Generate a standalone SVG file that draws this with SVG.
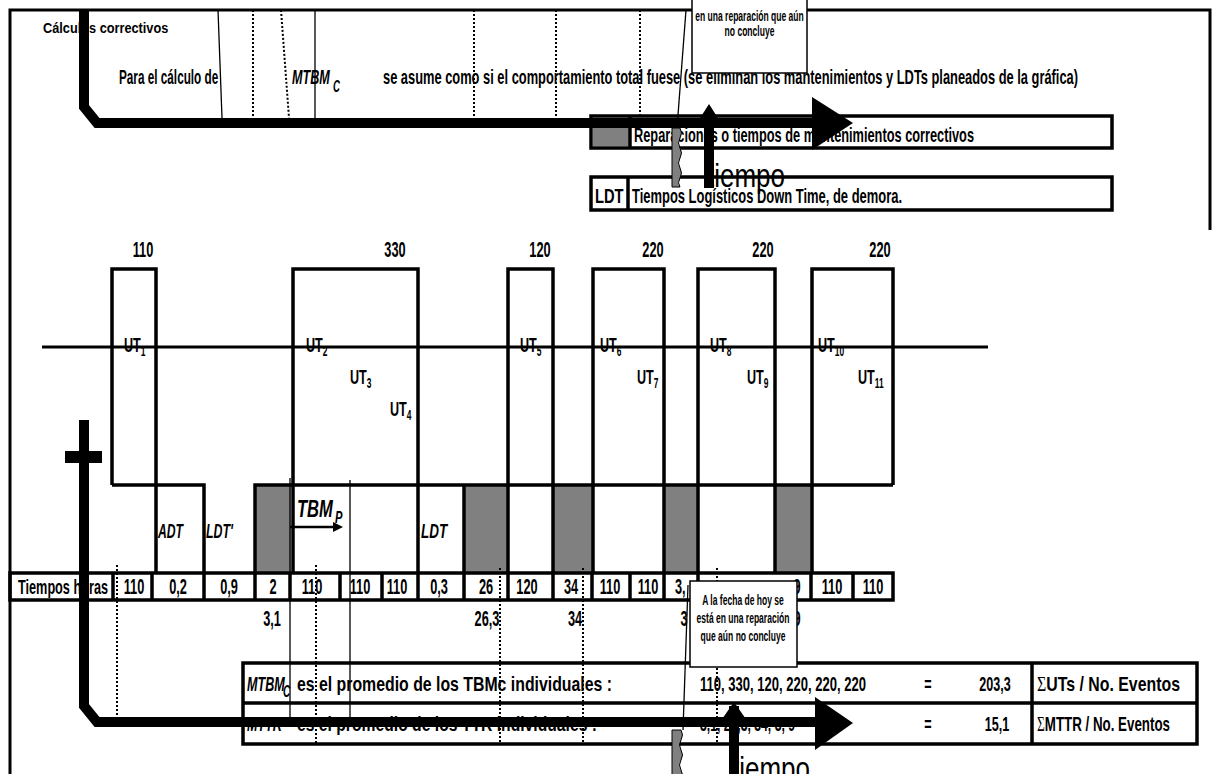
<svg xmlns="http://www.w3.org/2000/svg" width="1213" height="774" viewBox="0 0 1213 774">
<style>
.t{font-family:"Liberation Sans",Arial,sans-serif;font-weight:bold;fill:#000}
.r{font-family:"Liberation Sans",Arial,sans-serif;font-weight:normal;fill:#000}
.s{font-family:"Liberation Serif","Times New Roman",serif;font-weight:normal}
.i{font-style:italic}
.m{text-anchor:middle}
.f14{font-size:14px}
.f15{font-size:15px}
.f16{font-size:16px}
.f21{font-size:21px}
.f22{font-size:22px}
.f23{font-size:23px}
.f26{font-size:26px}
.frame{fill:none;stroke:#000;stroke-width:3}
.thick{fill:none;stroke:#000;stroke-width:10;stroke-linejoin:miter}
.box{fill:#fff;stroke:#000;stroke-width:3.5}
.tbl{fill:none;stroke:#000;stroke-width:3.5}
.ln{fill:none;stroke:#000;stroke-width:3.5}
.axis{fill:none;stroke:#000;stroke-width:3}
.gray{fill:#808080}
.dot{fill:none;stroke:#000;stroke-width:2;stroke-dasharray:2 2}
.thin{fill:none;stroke:#000;stroke-width:1.3}
.call{fill:#fff;stroke:#000;stroke-width:1.5}
.strip{fill:#808080;stroke:#000;stroke-width:1}
.arr{fill:none;stroke:#000;stroke-width:2.5}
</style>

<g id="panel-top">
<path class="frame" d="M10,774 V10 H1210 V230"/>
<text class="t f15" transform="translate(43,33) scale(.85 1)">Cálculos correctivos</text>
<text class="t f21" transform="translate(119,84) scale(.56 1)">Para el cálculo de</text>
<text class="t i f21" transform="translate(292,84) scale(.6 1)">MTBM</text>
<text class="t i f16" transform="translate(333,92) scale(.6 1)">C</text>
<text class="t f21" x="383" y="84" textLength="695" lengthAdjust="spacingAndGlyphs">se asume como si el comportamiento total fuese (se eliminan los mantenimientos y LDTs planeados de la gráfica)</text>
</g>

<g id="guides-top">
<path class="thin" d="M218,10 L222,118 M315,10 V118"/>
<path class="dot" d="M253,10 V118 M281,10 L289,118 M474,10 V118 M556,10 V118 M640,10 V128"/>
</g>

<g id="callout-top">
<rect class="call" x="692" y="-2" width="115" height="75"/>
<text class="t f14 m" transform="translate(749.5,21) scale(.61 1)">en una reparación que aún</text>
<text class="t f14 m" transform="translate(749.5,36) scale(.61 1)">no concluye</text>
</g>

<g id="legend-repair">
<rect class="box" x="591" y="116" width="521" height="32"/>
<rect class="gray" x="593" y="118" width="37" height="28"/>
<path class="ln" d="M630,116 V148"/>
<text class="t f21" x="634" y="142" textLength="340" lengthAdjust="spacingAndGlyphs">Reparaciones o tiempos de mantenimientos correctivos</text>
</g>

<g id="legend-ldt">
<rect class="box" x="591" y="177" width="521" height="33"/>
<path class="ln" d="M628,177 V210"/>
<text class="t f21" transform="translate(595,203) scale(.7 1)">LDT</text>
<text class="t f21" x="632" y="203" textLength="270" lengthAdjust="spacingAndGlyphs">Tiempos Logísticos Down Time, de demora.</text>
</g>

<text id="tiempo-top" class="r f26" transform="translate(707,187) scale(1 1.3)">tiempo</text>

<g id="values-top">
<text class="t f22 m" transform="translate(143,257) scale(.58 1)">110</text>
<text class="t f22 m" transform="translate(395,257) scale(.58 1)">330</text>
<text class="t f22 m" transform="translate(540,257) scale(.58 1)">120</text>
<text class="t f22 m" transform="translate(653,257) scale(.58 1)">220</text>
<text class="t f22 m" transform="translate(763,257) scale(.58 1)">220</text>
<text class="t f22 m" transform="translate(880,257) scale(.58 1)">220</text>
</g>

<g id="downtime">
<rect class="gray" x="255" y="485" width="36" height="88"/>
<rect class="gray" x="464" y="485" width="44" height="88"/>
<rect class="gray" x="553" y="485" width="40" height="88"/>
<rect class="gray" x="664" y="485" width="34" height="88"/>
<rect class="gray" x="775" y="485" width="37" height="88"/>
<path class="ln" d="M112,485 H204 V573 M255,573 V485 H893 M464,485 V573"/>
<text class="t i f21" transform="translate(158,538) scale(.58 1)">ADT</text>
<text class="t i f21" transform="translate(206,538) scale(.59 1)">LDT'</text>
<text class="t i f21" transform="translate(421,538) scale(.64 1)">LDT</text>
<text class="t i f23" transform="translate(297,517) scale(.72 1)">TBM</text>
<text class="t i f16" transform="translate(335,523) scale(.7 1)">P</text>
<path class="arr" d="M290,527 H334"/>
<polygon points="333,522 343,527 333,532"/>
</g>

<path id="axis" class="axis" d="M42,347 H988"/>

<g id="ut-1">
<path class="ln" d="M112,485 V269 H156 V573"/>
<text class="t f21" transform="translate(124,352) scale(.6 1)">UT<tspan font-size="14" dy="4">1</tspan></text>
</g>
<g id="ut-2-4">
<path class="ln" d="M293,573 V269 H418 V573"/>
<text class="t f21" transform="translate(306,352) scale(.6 1)">UT<tspan font-size="14" dy="4">2</tspan></text>
<text class="t f21" transform="translate(350,384) scale(.6 1)">UT<tspan font-size="14" dy="4">3</tspan></text>
<text class="t f21" transform="translate(390,416) scale(.6 1)">UT<tspan font-size="14" dy="4">4</tspan></text>
</g>
<g id="ut-5">
<path class="ln" d="M508,573 V269 H553 V573"/>
<text class="t f21" transform="translate(520,352) scale(.6 1)">UT<tspan font-size="14" dy="4">5</tspan></text>
</g>
<g id="ut-6-7">
<path class="ln" d="M593,573 V269 H664 V573"/>
<text class="t f21" transform="translate(600,352) scale(.6 1)">UT<tspan font-size="14" dy="4">6</tspan></text>
<text class="t f21" transform="translate(637,384) scale(.6 1)">UT<tspan font-size="14" dy="4">7</tspan></text>
</g>
<g id="ut-8-9">
<path class="ln" d="M698,573 V269 H775 V573"/>
<text class="t f21" transform="translate(710,352) scale(.6 1)">UT<tspan font-size="14" dy="4">8</tspan></text>
<text class="t f21" transform="translate(747,384) scale(.6 1)">UT<tspan font-size="14" dy="4">9</tspan></text>
</g>
<g id="ut-10-11">
<path class="ln" d="M812,573 V269 H893 V485"/>
<text class="t f21" transform="translate(818,352) scale(.6 1)">UT<tspan font-size="14" dy="4">10</tspan></text>
<text class="t f21" transform="translate(858,384) scale(.6 1)">UT<tspan font-size="14" dy="4">11</tspan></text>
</g>

<g id="table-hours">
<rect class="tbl" x="10" y="573" width="883" height="27"/>
<path class="ln" d="M113,573 V600 M152,573 V600 M204,573 V600 M255,573 V600 M290,573 V600 M340,573 V600 M382,573 V600 M418,573 V600 M464,573 V600 M508,573 V600 M553,573 V600 M592,573 V600 M630,573 V600 M664,573 V600 M698,573 V600 M811,573 V600 M853,573 V600"/>
<text class="t f21" x="18" y="594" textLength="90" lengthAdjust="spacingAndGlyphs">Tiempos horas</text>
<text class="t f22 m" transform="translate(134,594) scale(.58 1)">110</text>
<text class="t f22 m" transform="translate(178,594) scale(.58 1)">0,2</text>
<text class="t f22 m" transform="translate(229,594) scale(.58 1)">0,9</text>
<text class="t f22 m" transform="translate(273,594) scale(.58 1)">2</text>
<text class="t f22 m" transform="translate(312,594) scale(.58 1)">110</text>
<text class="t f22 m" transform="translate(360,594) scale(.58 1)">110</text>
<text class="t f22 m" transform="translate(397,594) scale(.58 1)">110</text>
<text class="t f22 m" transform="translate(439,594) scale(.58 1)">0,3</text>
<text class="t f22 m" transform="translate(486,594) scale(.58 1)">26</text>
<text class="t f22 m" transform="translate(527,594) scale(.58 1)">120</text>
<text class="t f22 m" transform="translate(571,594) scale(.58 1)">34</text>
<text class="t f22 m" transform="translate(610,594) scale(.58 1)">110</text>
<text class="t f22 m" transform="translate(648,594) scale(.58 1)">110</text>
<text class="t f22" transform="translate(675,594) scale(.58 1)">3,</text>
<text class="t f22 m" transform="translate(797,594) scale(.58 1)">9</text>
<text class="t f22 m" transform="translate(832,594) scale(.58 1)">110</text>
<text class="t f22 m" transform="translate(873,594) scale(.58 1)">110</text>
</g>

<g id="cumulative">
<text class="t f22 m" transform="translate(272,626) scale(.58 1)">3,1</text>
<text class="t f22 m" transform="translate(487,626) scale(.58 1)">26,3</text>
<text class="t f22 m" transform="translate(575,626) scale(.58 1)">34</text>
<text class="t f22 m" transform="translate(684,626) scale(.58 1)">3</text>
<text class="t f22 m" transform="translate(797,626) scale(.58 1)">9</text>
</g>

<g id="table-mtbm">
<rect class="tbl" x="243" y="663" width="954" height="81"/>
<path class="ln" d="M243,703 H1197 M1032,663 V744"/>
<text class="t i f21" transform="translate(247,691) scale(.6 1)">MTBM</text>
<text class="t i f16" transform="translate(283,697) scale(.62 1)">C</text>
<text class="t f21" x="297" y="691" textLength="315" lengthAdjust="spacingAndGlyphs">es el promedio de los TBMc individuales :</text>
<text class="t f21" x="700" y="691" textLength="166" lengthAdjust="spacingAndGlyphs">110, 330, 120, 220, 220, 220</text>
<text class="t f21 m" transform="translate(928,691) scale(.6 1)">=</text>
<text class="t f21 m" transform="translate(995,691) scale(.6 1)">203,3</text>
<text class="t f21" x="1037" y="691" textLength="143" lengthAdjust="spacingAndGlyphs"><tspan class="s">Σ</tspan>UTs / No. Eventos</text>
<text class="t i f21" transform="translate(247,731) scale(.6 1)">MTTR</text>
<text class="t f21" x="297" y="731" textLength="300" lengthAdjust="spacingAndGlyphs">es el promedio de los TTR individuales :</text>
<text class="t f21" x="700" y="731" textLength="95" lengthAdjust="spacingAndGlyphs">3,1, 26,3, 34, 3, 9</text>
<text class="t f21 m" transform="translate(928,731) scale(.6 1)">=</text>
<text class="t f21 m" transform="translate(997,731) scale(.6 1)">15,1</text>
<text class="t f21" x="1037" y="731" textLength="133" lengthAdjust="spacingAndGlyphs"><tspan class="s">Σ</tspan>MTTR / No. Eventos</text>
</g>

<g id="guides-bottom">
<path class="dot" d="M117,565 V716 M316,565 V745 M500,568 V745 M583,568 V745 M717,568 V745"/>
<path class="thin" d="M290,478 V718 M350,480 V718"/>
</g>

<g id="callout-bottom">
<rect class="call" x="690" y="581" width="107" height="86"/>
<text class="t f14 m" transform="translate(743,605) scale(.61 1)">A la fecha de hoy se</text>
<text class="t f14 m" transform="translate(743,623) scale(.61 1)">está en una reparación</text>
<text class="t f14 m" transform="translate(743,641) scale(.61 1)">que aún no concluye</text>
</g>

<text id="tiempo-bottom" class="r f26" transform="translate(732,780) scale(1 1.3)">tiempo</text>

<g id="connectors">
<path class="strip" d="M672,128 H680 q3,5 0,10 q-3,5 0,10 q3,5 0,10 q-3,5 0,10 q3,5 0,10 q-3,5 0,9 V187 H672 Z"/>
<path class="thin" d="M686,10 L677,128"/>
<polygon points="695,126 709,104 723,126"/>
<path class="thick" d="M709,188 V118"/>
<path class="thick" d="M84,10 V107 L97,123 H815"/>
<polygon points="812,97 853,123 812,150"/>

<path class="strip" d="M672,730 H681 q3,5 0,10 q-3,5 0,10 q3,5 0,10 q-3,5 0,10 q3,5 0,10 V776 H672 Z"/>
<path class="thin" d="M688,585 L683,730"/>
<rect x="65" y="451" width="37" height="12"/>
<polygon points="720,722 734,702 748,722"/>
<path class="thick" d="M734,776 V706"/>
<path class="thick" d="M84,420 V706 L97,722 H818"/>
<polygon points="815,697 853,723 815,750"/>
</g>
</svg>
